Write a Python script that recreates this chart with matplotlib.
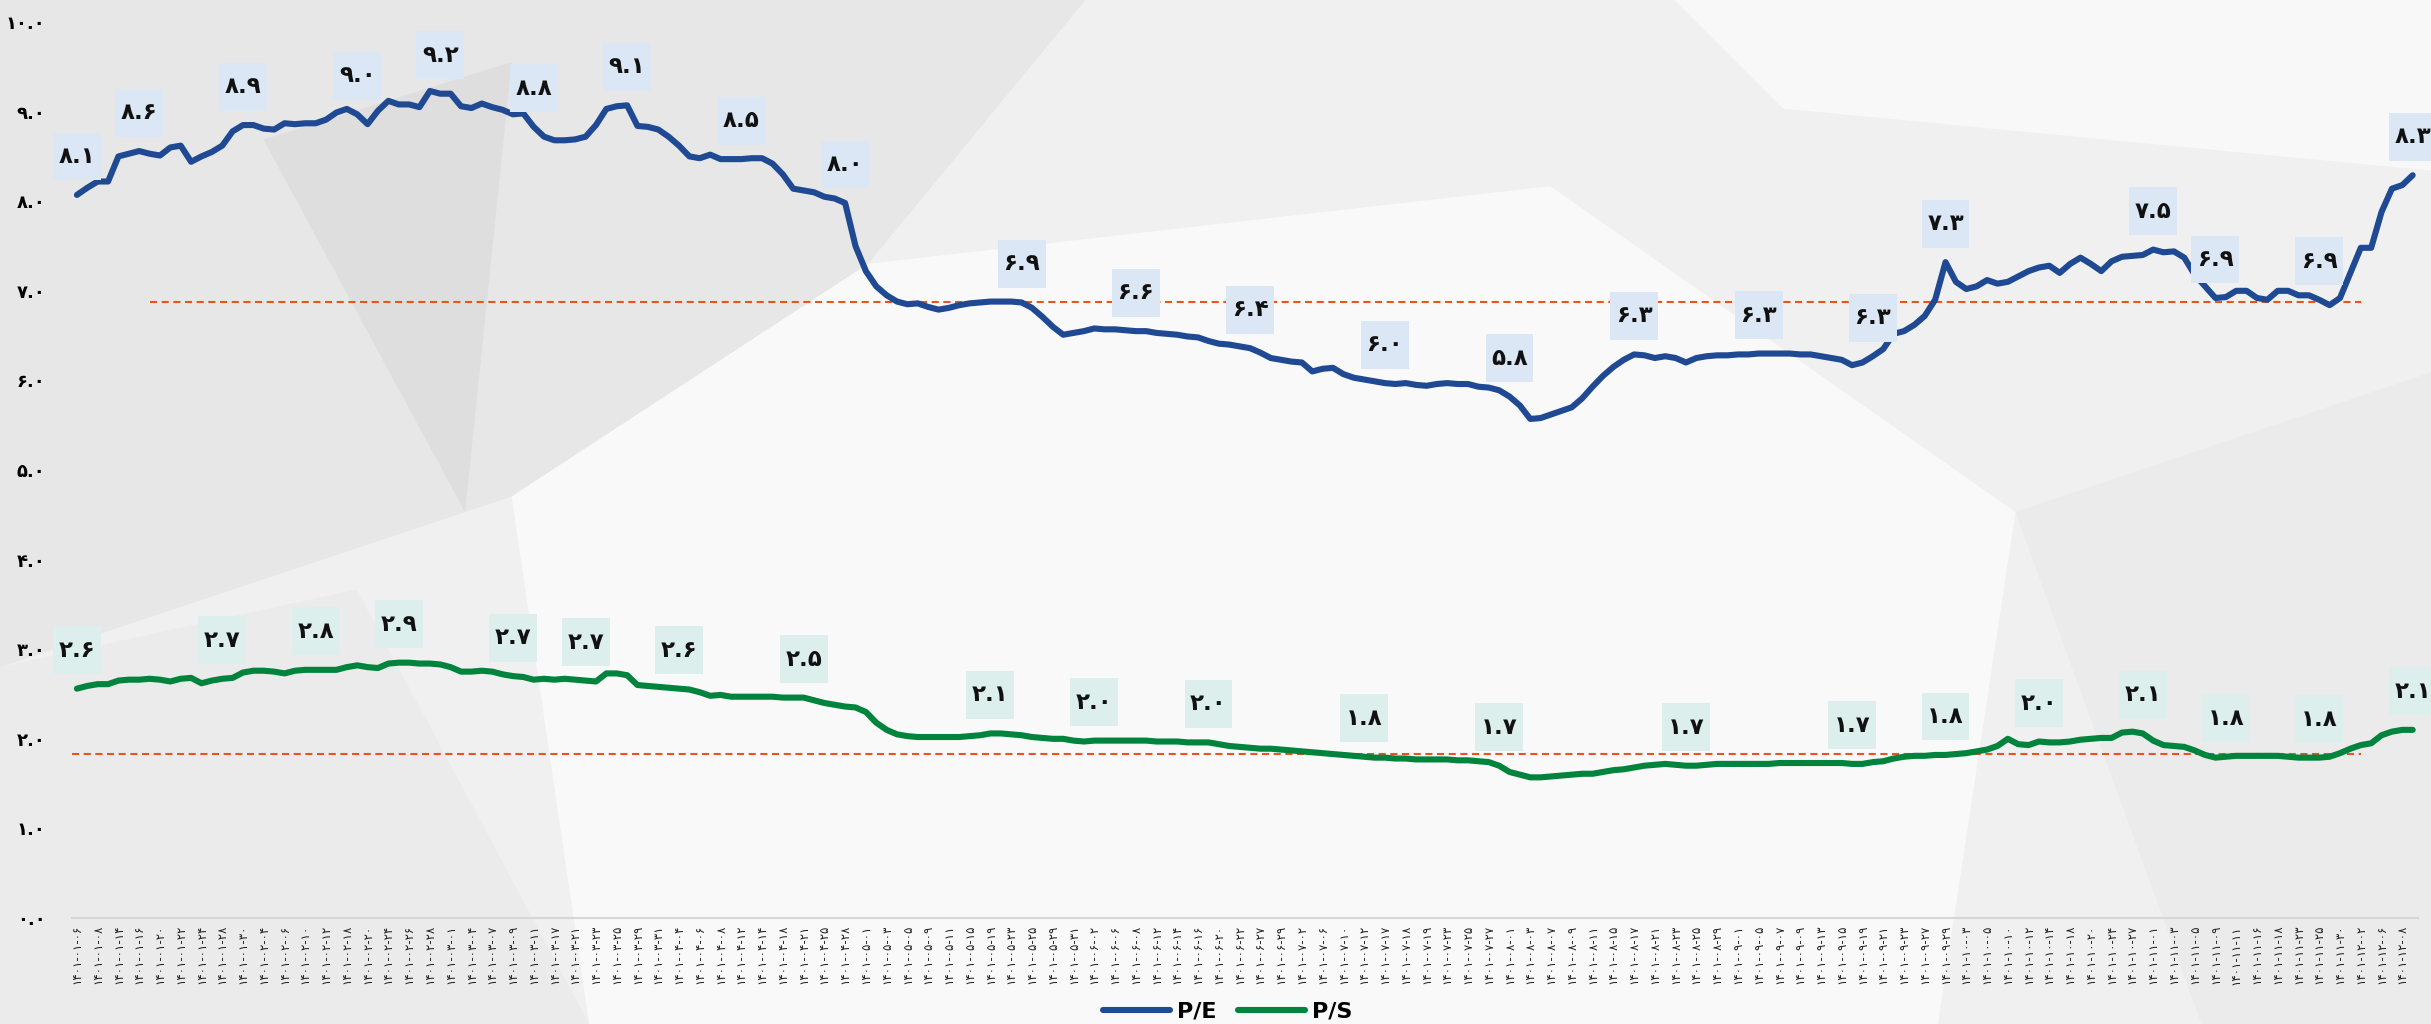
import matplotlib
matplotlib.use("Agg")
import matplotlib.pyplot as plt
from matplotlib.patches import Polygon, Rectangle
from matplotlib.transforms import Affine2D, ScaledTranslation

# persian digits
FA = str.maketrans("0123456789", "۰۱۲۳۴۵۶۷۸۹")
def fa(s):
    return str(s).translate(FA)

# x labels, shown on every other point
dates = ["01-06", "01-08", "01-14", "01-16", "01-20", "01-22", "01-24", "01-28", "01-30", "02-04",
         "02-06", "02-10", "02-12", "02-18", "02-20", "02-24", "02-26", "02-28", "03-01", "03-04",
         "03-07", "03-09", "03-11", "03-17", "03-21", "03-23", "03-25", "03-29", "03-31", "04-04",
         "04-06", "04-08", "04-12", "04-14", "04-18", "04-21", "04-25", "04-28", "05-01", "05-03",
         "05-05", "05-09", "05-11", "05-15", "05-19", "05-23", "05-25", "05-29", "05-31", "06-02",
         "06-06", "06-08", "06-12", "06-14", "06-16", "06-20", "06-22", "06-27", "06-29", "07-02",
         "07-06", "07-10", "07-12", "07-17", "07-18", "07-19", "07-23", "07-25", "07-27", "08-01",
         "08-03", "08-07", "08-09", "08-11", "08-15", "08-17", "08-21", "08-23", "08-25", "08-29",
         "09-01", "09-05", "09-07", "09-09", "09-13", "09-15", "09-19", "09-21", "09-23", "09-27",
         "09-29", "10-03", "10-05", "10-10", "10-12", "10-14", "10-18", "10-20", "10-24", "10-27",
         "11-01", "11-03", "11-05", "11-09", "11-11", "11-16", "11-18", "11-23", "11-25", "11-30",
         "12-02", "12-06", "12-08"]

pe = [8.07, 8.15, 8.22, 8.22, 8.50, 8.53, 8.56, 8.53, 8.51, 8.60,
      8.62, 8.44, 8.50, 8.55, 8.62, 8.78, 8.85, 8.85, 8.81, 8.80,
      8.87, 8.86, 8.87, 8.87, 8.91, 8.99, 9.03, 8.97, 8.86, 9.01,
      9.12, 9.08, 9.08, 9.05, 9.23, 9.20, 9.20, 9.06, 9.04, 9.09,
      9.05, 9.02, 8.97, 8.98, 8.83, 8.72, 8.68, 8.68, 8.69, 8.72,
      8.85, 9.03, 9.06, 9.07, 8.84, 8.83, 8.80, 8.72, 8.62, 8.50,
      8.48, 8.52, 8.47, 8.47, 8.47, 8.48, 8.48, 8.42, 8.30, 8.14,
      8.12, 8.10, 8.05, 8.03, 7.98, 7.50, 7.22, 7.05, 6.95, 6.88,
      6.85, 6.86, 6.82, 6.79, 6.81, 6.84, 6.86, 6.87, 6.88, 6.88,
      6.88, 6.87, 6.81, 6.71, 6.60, 6.51, 6.53, 6.55, 6.58, 6.57,
      6.57, 6.56, 6.55, 6.55, 6.53, 6.52, 6.51, 6.49, 6.48, 6.44,
      6.41, 6.40, 6.38, 6.36, 6.31, 6.25, 6.23, 6.21, 6.20, 6.10,
      6.13, 6.14, 6.07, 6.03, 6.01, 5.99, 5.97, 5.96, 5.97, 5.95,
      5.94, 5.96, 5.97, 5.96, 5.96, 5.93, 5.92, 5.89, 5.82, 5.72,
      5.57, 5.58, 5.62, 5.66, 5.70, 5.80, 5.93, 6.05, 6.15, 6.23,
      6.29, 6.28, 6.25, 6.27, 6.25, 6.20, 6.25, 6.27, 6.28, 6.28,
      6.29, 6.29, 6.30, 6.30, 6.30, 6.30, 6.29, 6.29, 6.27, 6.25,
      6.23, 6.17, 6.20, 6.27, 6.35, 6.52, 6.55, 6.62, 6.72, 6.90,
      7.32, 7.10, 7.02, 7.05, 7.12, 7.08, 7.10, 7.16, 7.22, 7.26,
      7.28, 7.20, 7.30, 7.37, 7.30, 7.22, 7.33, 7.38, 7.39, 7.40,
      7.46, 7.43, 7.44, 7.37, 7.18, 7.05, 6.92, 6.93, 7.00, 7.00,
      6.92, 6.90, 7.00, 7.00, 6.95, 6.95, 6.90, 6.84, 6.92, 7.20,
      7.48, 7.48, 7.88, 8.14, 8.18, 8.29]

ps = [2.56, 2.59, 2.61, 2.61, 2.65, 2.66, 2.66, 2.67, 2.66, 2.64,
      2.67, 2.68, 2.62, 2.65, 2.67, 2.68, 2.74, 2.76, 2.76, 2.75,
      2.73, 2.76, 2.77, 2.77, 2.77, 2.77, 2.80, 2.82, 2.80, 2.79,
      2.84, 2.85, 2.85, 2.84, 2.84, 2.83, 2.80, 2.75, 2.75, 2.76,
      2.75, 2.72, 2.70, 2.69, 2.66, 2.67, 2.66, 2.67, 2.66, 2.65,
      2.64, 2.73, 2.73, 2.71, 2.60, 2.59, 2.58, 2.57, 2.56, 2.55,
      2.52, 2.48, 2.49, 2.47, 2.47, 2.47, 2.47, 2.47, 2.46, 2.46,
      2.46, 2.43, 2.40, 2.38, 2.36, 2.35, 2.30, 2.18, 2.10, 2.05,
      2.03, 2.02, 2.02, 2.02, 2.02, 2.02, 2.03, 2.04, 2.06, 2.06,
      2.05, 2.04, 2.02, 2.01, 2.00, 2.00, 1.98, 1.97, 1.98, 1.98,
      1.98, 1.98, 1.98, 1.98, 1.97, 1.97, 1.97, 1.96, 1.96, 1.96,
      1.94, 1.92, 1.91, 1.90, 1.89, 1.89, 1.88, 1.87, 1.86, 1.85,
      1.84, 1.83, 1.82, 1.81, 1.80, 1.79, 1.79, 1.78, 1.78, 1.77,
      1.77, 1.77, 1.77, 1.76, 1.76, 1.75, 1.74, 1.70, 1.63, 1.60,
      1.57, 1.57, 1.58, 1.59, 1.60, 1.61, 1.61, 1.63, 1.65, 1.66,
      1.68, 1.70, 1.71, 1.72, 1.71, 1.70, 1.70, 1.71, 1.72, 1.72,
      1.72, 1.72, 1.72, 1.72, 1.73, 1.73, 1.73, 1.73, 1.73, 1.73,
      1.73, 1.72, 1.72, 1.74, 1.75, 1.78, 1.80, 1.81, 1.81, 1.82,
      1.82, 1.83, 1.84, 1.86, 1.88, 1.92, 2.00, 1.94, 1.93, 1.97,
      1.96, 1.96, 1.97, 1.99, 2.00, 2.01, 2.01, 2.07, 2.08, 2.06,
      1.98, 1.93, 1.92, 1.91, 1.87, 1.82, 1.79, 1.80, 1.81, 1.81,
      1.81, 1.81, 1.81, 1.80, 1.79, 1.79, 1.79, 1.80, 1.84, 1.89,
      1.93, 1.95, 2.04, 2.08, 2.10, 2.10]

# labelled points (index, shown value)
pe_lbl_idx = [0, 6, 16, 27, 35, 44, 53, 64, 74, 91, 102, 113, 126, 138, 150, 162, 173, 180, 200, 206, 216, 225]
pe_lbl_val = [8.1, 8.6, 8.9, 9.0, 9.2, 8.8, 9.1, 8.5, 8.0, 6.9, 6.6, 6.4, 6.0, 5.8, 6.3, 6.3, 6.3, 7.3, 7.5, 6.9, 6.9, 8.3]
ps_lbl_idx = [0, 14, 23, 31, 42, 49, 58, 70, 88, 98, 109, 124, 137, 155, 171, 180, 189, 199, 207, 216, 225]
ps_lbl_val = [2.6, 2.7, 2.8, 2.9, 2.7, 2.7, 2.6, 2.5, 2.1, 2.0, 2.0, 1.8, 1.7, 1.7, 1.7, 1.8, 2.0, 2.1, 1.8, 1.8, 2.1]

pe_avg = 6.88
ps_avg = 1.83

PE_COLOR = "#1F4A93"
PS_COLOR = "#00843D"

fig = plt.figure(figsize=(24.31, 10.24), dpi=100)
fig.patch.set_facecolor("#f0f0f0")

# rough background shapes
def bg(pts, color):
    p = Polygon([(x / 1568, 1 - y / 660) for x, y in pts], closed=True,
                transform=fig.transFigure, fc=color, ec="none", zorder=-5)
    fig.add_artist(p)

bg([(0, 0), (700, 0), (560, 170), (330, 320), (0, 430)], "#e7e7e7")
bg([(170, 90), (330, 40), (300, 330)], "#dedede")
bg([(330, 320), (560, 170), (1000, 120), (1300, 330), (1250, 660), (380, 660)], "#f9f9f9")
bg([(1080, 0), (1568, 0), (1568, 110), (1150, 70)], "#f8f8f8")
bg([(0, 430), (230, 380), (380, 660), (0, 660)], "#ebebeb")
bg([(1300, 330), (1568, 240), (1568, 660), (1420, 660)], "#ebebeb")

ax = fig.add_axes([0.0295, 0.1035, 0.9651, 0.875])
ax.set_facecolor("none")

x = list(range(len(pe)))
ax.plot(x, pe, color=PE_COLOR, lw=4.4, solid_joinstyle="round", solid_capstyle="round", zorder=3)
ax.plot(x, ps, color=PS_COLOR, lw=4.4, solid_joinstyle="round", solid_capstyle="round", zorder=3)

ax.hlines(pe_avg, 7, 220, colors="#E8541E", linestyles=(0, (3.4, 2.2)), lw=1.5, zorder=2)
ax.hlines(ps_avg, -0.5, 220, colors="#E8541E", linestyles=(0, (3.4, 2.2)), lw=1.5, zorder=2)

# data labels: fixed size box (points) above the point
BOX = 34.5
OFF = 27.7
def add_label(i, y, text, color):
    tr = Affine2D().scale(fig.dpi / 72) + ScaledTranslation(i, y, ax.transData)
    ax.add_patch(Rectangle((-BOX / 2, OFF - BOX / 2), BOX, BOX, transform=tr,
                           fc=color, ec="none", zorder=5, clip_on=False))
    ax.text(0, OFF, text, transform=tr, ha="center", va="center", fontsize=16.5,
            fontweight="bold", color="#111111", zorder=6, clip_on=False)

for i, v in zip(pe_lbl_idx, pe_lbl_val):
    add_label(i, pe[i], fa(f"{v:.1f}"), "#dbe7f4")
for i, v in zip(ps_lbl_idx, ps_lbl_val):
    add_label(i, ps[i], fa(f"{v:.1f}"), "#dcefec")

ax.set_xlim(-0.5, len(pe) - 0.5)
ax.set_ylim(0, 10)
ax.set_yticks(range(0, 11))
ax.set_yticklabels([fa(f"{v:.1f}") for v in range(0, 11)], fontsize=13, fontweight="bold")
ax.set_xticks(range(0, len(pe), 2))
ax.set_xticklabels([fa("1401-" + d) for d in dates], rotation=90, fontsize=8.5, color="#222222")
ax.tick_params(axis="both", length=0)
ax.tick_params(axis="y", pad=19)
ax.tick_params(axis="x", pad=5)
for s in ["top", "right", "left"]:
    ax.spines[s].set_visible(False)
ax.spines["bottom"].set_color("#d6d6d6")
ax.spines["bottom"].set_linewidth(1.5)

h1, = ax.plot([], [], color=PE_COLOR, lw=4.4, solid_capstyle="round")
h2, = ax.plot([], [], color=PS_COLOR, lw=4.4, solid_capstyle="round")
fig.legend([h1, h2], ["P/E", "P/S"], loc="center", bbox_to_anchor=(0.505, 0.012), ncol=2,
           frameon=False, handlelength=3.0, columnspacing=1.0, handletextpad=0.3,
           prop=dict(family=["Liberation Sans Narrow", "DejaVu Sans"], weight="bold", size=16))

fig.savefig("out.png", dpi=100, facecolor=fig.get_facecolor())
